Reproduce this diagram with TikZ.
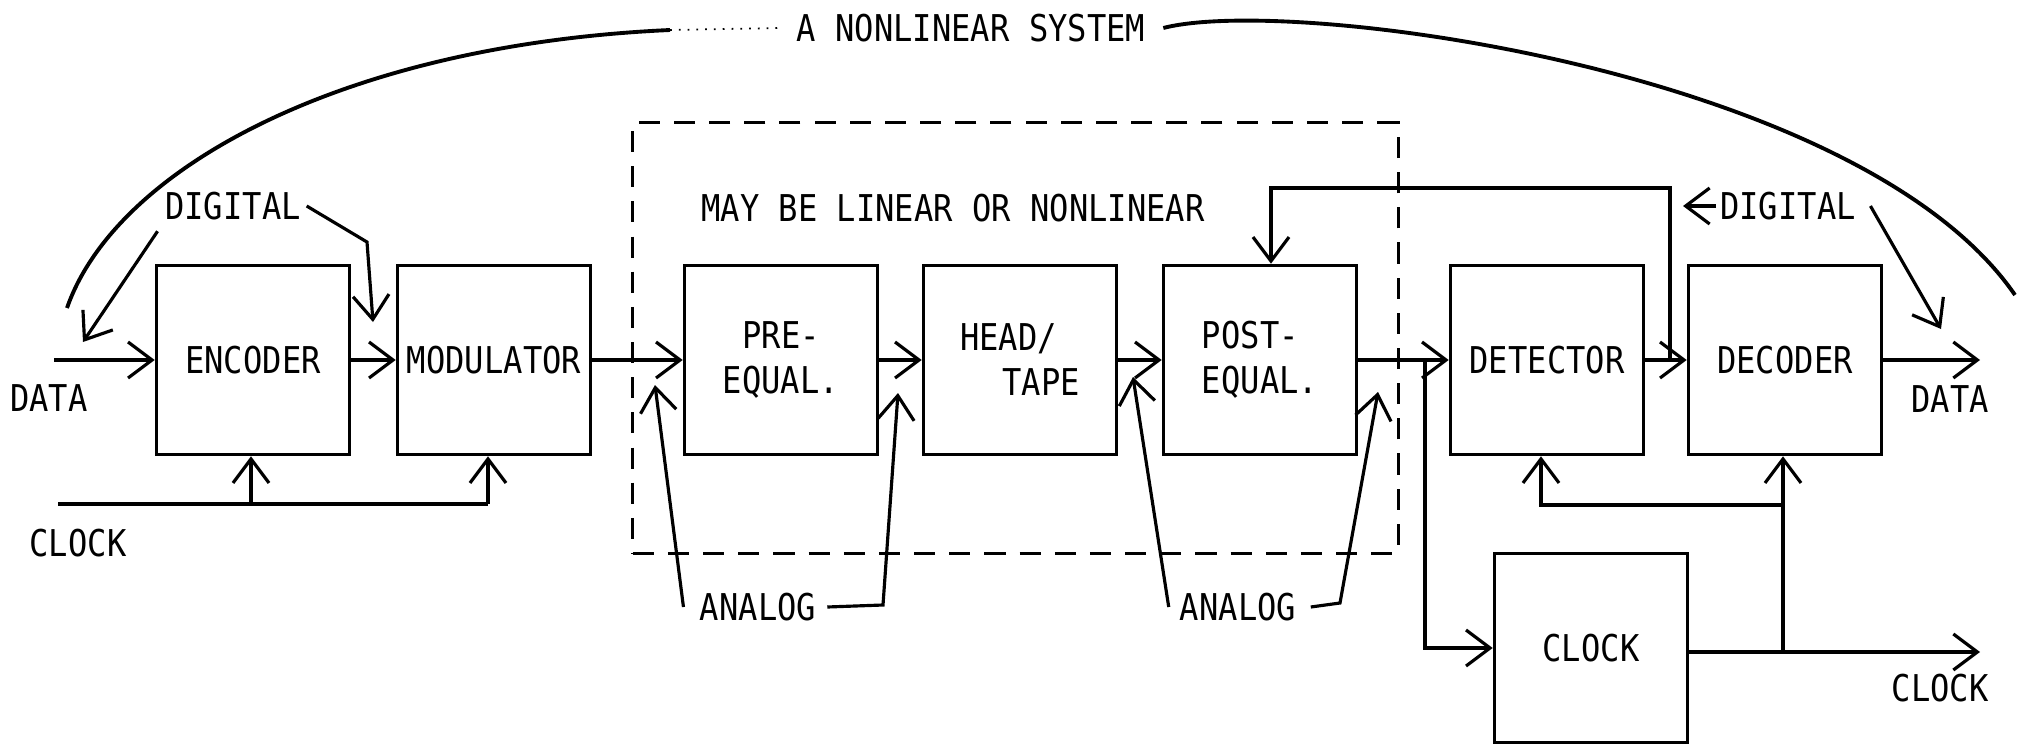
\documentclass[tikz,border=0pt]{standalone}
\usepackage{fontspec}
\newfontfamily\lett[FakeStretch=0.87]{DejaVu Sans Mono}
\usetikzlibrary{arrows.meta}
\begin{document}
\begin{tikzpicture}[x=0.01cm,y=-0.01cm,
  every node/.style={font=\lett\fontsize{10.5}{12.8}\selectfont, inner sep=0pt},
  blk/.style={draw, line width=1pt, minimum width=1.93cm, minimum height=1.89cm},
  ln/.style={line width=0.9pt},
  arr/.style={ln, -{Straight Barb[length=2.4mm,width=3.6mm,line width=0.9pt]}},
  dbox/.style={draw, line width=0.9pt, dash pattern=on 6pt off 4pt, minimum width=7.65cm, minimum height=4.3cm}
  ]
\useasboundingbox[fill=white] (0,0) rectangle (2032,748);

% dashed region
\node[dbox] (lin) at (1015.5,338) {};

% blocks
\node[blk] (enc) at (253,360) {ENCODER};
\node[blk] (mod) at (494,360) {MODULATOR};
\node[blk, align=center] (pre) at (781,360) {PRE-\\EQUAL.};
\node[blk, align=left] (head) at (1020,360) {HEAD/\\\hspace*{12pt}TAPE};
\node[blk, align=left] (post) at (1260,360) {POST-\\EQUAL.};
\node[blk] (det) at (1547,360) {DETECTOR};
\node[blk] (dec) at (1785,360) {DECODER};
\node[blk] (clk) at (1591,648) {CLOCK};

% labels
\node (datain) at (49,398) {DATA};
\node (clkin) at (78,543) {CLOCK};
\node (dataout) at (1950,399) {DATA};
\node (clkout) at (1940,688) {CLOCK};
\node (dig1) at (233,206) {DIGITAL};
\node (dig2) at (1788,206) {DIGITAL};
\node (may) at (953,208) {MAY BE LINEAR OR NONLINEAR};
\node (sys) at (971,28) {A NONLINEAR SYSTEM};
\node (an1) at (758,607) {ANALOG};
\node (an2) at (1238,607) {ANALOG};

% main signal path
\coordinate (din) at (54,360);
\coordinate (dout) at (1980,360);
\draw[arr] (din) -- (enc.west);
\draw[arr] (enc.east) -- (mod.west);
\draw[arr] (mod.east) -- (pre.west);
\draw[arr] (pre.east) -- (head.west);
\draw[arr] (head.east) -- (post.west);
\draw[arr] (post.east) -- (det.west);
\draw[arr] (det.east) -- (dec.west);
\draw[arr] (dec.east) -- (dout);

% input clock
\coordinate (cin) at (58,504);
\coordinate (cj1) at (251,504);
\coordinate (cj2) at (488,504);
\draw[ln] (cin) -- (cj2);
\draw[arr] (cj1) -- (cj1 |- enc.south);
\draw[arr] (cj2) -- (cj2 |- mod.south);

% detector branch to clock recovery
\coordinate (bj) at (1425,360);
\draw[arr] (bj) |- (clk.west);

% feedback to post-equalizer
\coordinate (fj) at (1670,360);
\coordinate (fb) at (1271,188);
\draw[arr] (fj) |- (fb) -- (fb |- post.north);

% output clock
\coordinate (cout) at (1980,652);
\coordinate (cj3) at (1783,652);
\coordinate (cj4) at (1783,505);
\coordinate (cj5) at (1541,505);
\draw[arr] (clk.east |- cout) -- (cout);
\draw[arr] (cj3) -- (cj3 |- dec.south);
\draw[arr] (cj4) -- (cj5) -- (cj5 |- det.south);

% digital pointers
\coordinate (dt1) at (83,342);
\coordinate (dk1) at (367,242);
\coordinate (dt1b) at (373,322);
\draw[arr] ([xshift=-2pt,yshift=-3pt]dig1.south west) -- (dt1);
\draw[arr] ([xshift=1.5pt]dig1.east) -- (dk1) -- (dt1b);
\coordinate (da2) at (1683,206);
\coordinate (dt2) at (1941,329);
\draw[arr] ([xshift=-1pt]dig2.west) -- (da2);
\draw[arr] ([xshift=4pt]dig2.east) -- (dt2);

% analog pointers
\coordinate (at1) at (655,385);
\coordinate (ak2) at (883,605);
\coordinate (at2) at (898,393);
\coordinate (at3) at (1133,377);
\coordinate (ak4) at (1340,603);
\coordinate (at4) at (1378,392);
\draw[arr] ([xshift=-4.5pt]an1.west) -- (at1);
\draw[arr] ([xshift=3pt]an1.east) -- (ak2) -- (at2);
\draw[arr] ([xshift=-3pt]an2.west) -- (at3);
\draw[arr] ([xshift=4pt]an2.east) -- (ak4) -- (at4);

% nonlinear system arc
\coordinate (arcL) at (67,308);
\coordinate (arcM) at (670,30);
\coordinate (arcD) at (780,28);
\coordinate (arcR) at (2015,295);
\draw[line width=1.1pt] (arcL) .. controls (115,170) and (340,45) .. (arcM);
\draw[line width=0.5pt, dotted] (arcM) -- (arcD);
\draw[line width=1.1pt] ([xshift=5pt]sys.east) .. controls (1290,-5) and (1860,70) .. (arcR);
\end{tikzpicture}
\end{document}
